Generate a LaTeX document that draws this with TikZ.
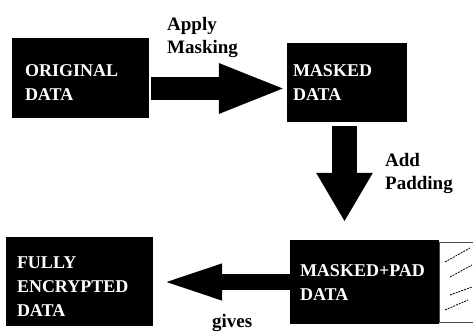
\documentclass[tikz,border=0pt]{standalone}
\usepackage{fontspec}
\setmainfont{Liberation Serif}
\usetikzlibrary{arrows.meta}

\begin{document}
\begin{tikzpicture}[x=1pt, y=-1pt,
    databox/.style={fill=black, inner sep=0pt},
    boxtext/.style={text=white, font=\fontsize{18}{24}\selectfont\bfseries,
        align=left, inner sep=0pt, anchor=north west},
    steplabel/.style={font=\fontsize{19}{23}\selectfont\bfseries,
        align=left, inner sep=0pt, anchor=north west},
    padbox/.style={draw=black!70, line width=0.8pt, inner sep=0pt},
    hatch/.style={line width=0.8pt, dash pattern=on 2pt off 1pt}]
    \useasboundingbox (0,0) rectangle (473,332);
    % data blocks
    \node[databox, minimum width=137pt, minimum height=80pt] (orig) at (80.5,78) {};
    \node[databox, minimum width=120pt, minimum height=79pt] (masked) at (347,82.5) {};
    \node[databox, minimum width=149pt, minimum height=84pt] (padded) at (364.5,282) {};
    \node[databox, minimum width=147pt, minimum height=89pt] (fully) at (79.5,281.5) {};
    \node[boxtext] (origtext) at ([shift={(13,27)}]orig.north west) {ORIGINAL\\DATA};
    \node[boxtext] (maskedtext) at ([shift={(6,22)}]masked.north west) {MASKED\\DATA};
    \node[boxtext] (paddedtext) at ([shift={(10,25)}]padded.north west) {MASKED+PAD\\DATA};
    \node[boxtext] (fullytext) at ([shift={(11,20)}]fully.north west) {FULLY\\ENCRYPTED\\DATA};
    % the padding part, hatched
    \node[padbox, minimum width=36pt, minimum height=80pt, anchor=west] (pad) at (padded.east) {};
    \foreach \xa/\ya/\xb/\yb in {445/262/470/248, 450/277/472/265,
        450/295/472/287, 445/310/468/300}
        \draw[hatch] (\xa,\ya) -- (\xb,\yb);
    % block arrows
    \draw[line width=23pt, shorten <=2pt, -{Triangle[length=68pt, width=45pt]}]
        ([yshift=-10.5pt]orig.east) -- ([yshift=-6pt]masked.west);
    \draw[line width=25pt, shorten <=4pt, shorten >=18pt, -{Triangle[length=49pt, width=53pt]}]
        ([xshift=-2.5pt]masked.south) -- ([xshift=-20pt]padded.north);
    \draw[line width=16pt, shorten >=4pt, -{Triangle[length=65pt, width=31pt]}]
        (padded.west) -- (padded.west -| fully.east);
    % labels
    \node[steplabel] (masklbl) at (167,17) {Apply\\Masking};
    \node[steplabel] (padlbl) at (385,153) {Add\\Padding};
    \node[steplabel, anchor=base west] (giveslbl) at (212,327) {gives};
\end{tikzpicture}
\end{document}
